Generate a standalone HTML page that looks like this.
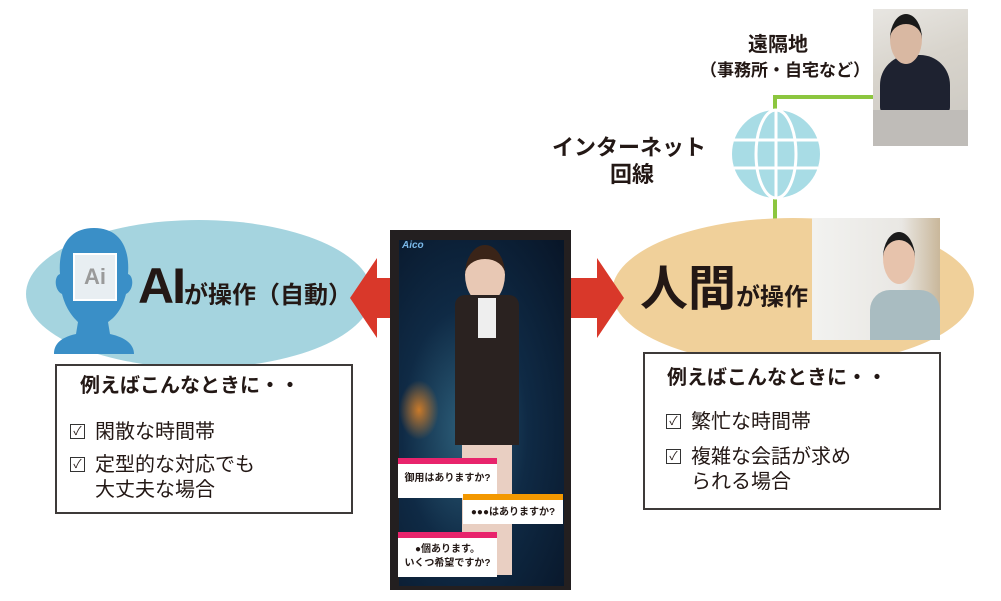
<!DOCTYPE html>
<html><head><meta charset="utf-8"><style>
body{margin:0;width:1001px;height:601px;background:#fff;position:relative;overflow:hidden;font-family:"Liberation Sans","Noto Sans CJK JP",sans-serif;color:#231815}
.a{position:absolute}
.box{position:absolute;background:#fff;border:2px solid #3e3a39;box-sizing:border-box}
.t{position:absolute;font-weight:bold;white-space:nowrap}
.cb{display:inline-block;width:13px;height:13px;border:1px solid #333;font-size:12px;line-height:12px;text-align:center;font-weight:normal;margin-right:10px;vertical-align:3px}
</style></head><body>
<!-- green lines -->
<div class="a" style="left:773px;top:95px;width:100px;height:4px;background:#8cc63f"></div>
<div class="a" style="left:773px;top:95px;width:4px;height:14px;background:#8cc63f"></div>
<div class="a" style="left:773px;top:198px;width:4px;height:22px;background:#8cc63f"></div>
<!-- globe -->
<svg class="a" style="left:730px;top:108px" width="92" height="92" viewBox="0 0 92 92">
<circle cx="46" cy="46" r="44" fill="#a8dce5"/>
<ellipse cx="46" cy="46" rx="20" ry="44" fill="none" stroke="#fff" stroke-width="3"/>
<line x1="46" y1="2" x2="46" y2="90" stroke="#fff" stroke-width="3"/>
<line x1="4" y1="32" x2="88" y2="32" stroke="#fff" stroke-width="3"/>
<line x1="4" y1="60" x2="88" y2="60" stroke="#fff" stroke-width="3"/>
</svg>
<!-- remote photo -->
<div class="a" style="left:873px;top:9px;width:95px;height:137px;background:linear-gradient(160deg,#e8e6e2 0%,#d8d4cc 40%,#c9c6c0 100%)"></div>
<div class="a" style="left:880px;top:55px;width:70px;height:60px;background:#1e2230;border-radius:30px 30px 8px 8px"></div>
<div class="a" style="left:890px;top:14px;width:32px;height:40px;background:#d9b8a2;border-radius:50%;border-top:10px solid #1a1a1a"></div>
<div class="a" style="left:873px;top:110px;width:95px;height:36px;background:#bfbcb8"></div>
<div class="t" style="left:748px;top:28px;font-size:20px">遠隔地</div>
<div class="t" style="left:700px;top:56px;font-size:17px">（事務所・自宅など）</div>
<div class="t" style="left:552px;top:130px;font-size:22px">インターネット</div>
<div class="t" style="left:610px;top:157px;font-size:22px">回線</div>
<!-- ellipses -->
<div class="a" style="left:26px;top:220px;width:346px;height:148px;border-radius:50%;background:#a5d4df"></div>
<div class="a" style="left:612px;top:218px;width:362px;height:148px;border-radius:50%;background:#f0d09a"></div>
<!-- human photo -->
<div class="a" style="left:812px;top:218px;width:128px;height:122px;background:linear-gradient(90deg,#f2f2f0,#e9e7e3 70%,#c9b79a)"></div>
<div class="a" style="left:870px;top:290px;width:70px;height:50px;background:#a9bcc1;border-radius:20px 20px 0 0"></div>
<div class="a" style="left:883px;top:232px;width:32px;height:44px;background:#e7c3ac;border-radius:50%;border-top:8px solid #1b1b1b"></div>
<div class="t" style="left:640px;top:262px;font-size:48px;line-height:56px">人間<span style="font-size:24px">が操作</span></div>
<!-- AI head -->
<svg class="a" style="left:48px;top:224px" width="92" height="130" viewBox="0 0 92 130">
<path d="M46 4 C20 4 10 24 12 50 C6 52 6 66 14 70 C18 86 26 94 30 98 L28 110 C10 114 6 122 6 130 L86 130 C86 122 80 114 62 110 L60 98 C66 94 74 86 78 70 C86 66 86 52 80 50 C82 24 72 4 46 4Z" fill="#3a8fc7"/>
<rect x="26" y="30" width="42" height="46" fill="#e8eef2" stroke="#fff" stroke-width="2"/>
<text x="47" y="60" font-family="Liberation Sans" font-size="22" font-weight="bold" fill="#9a9a9a" text-anchor="middle">Ai</text>
</svg>
<div class="t" style="left:138px;top:258px;font-size:50px;line-height:56px;letter-spacing:-2px">AI<span style="font-size:24px;letter-spacing:0">が操作（自動）</span></div>
<!-- arrows -->
<svg class="a" style="left:345px;top:255px" width="70" height="86"><polygon points="5,43 32,3 32,23 66,23 66,63 32,63 32,83" fill="#d9382a"/></svg>
<svg class="a" style="left:558px;top:255px" width="70" height="86"><polygon points="66,43 39,3 39,23 5,23 5,63 39,63 39,83" fill="#d9382a"/></svg>
<!-- phone -->
<div class="a" style="left:390px;top:230px;width:181px;height:360px;background:#231f20"></div>
<div class="a" style="left:399px;top:240px;width:165px;height:346px;background:radial-gradient(ellipse at 40% 55%,#2d5f7a 0%,#0f2a45 45%,#081527 100%)"></div>
<div class="a" style="left:399px;top:380px;width:40px;height:60px;background:radial-gradient(#c97a2a,transparent 70%)"></div>
<div class="a" style="left:465px;top:245px;width:40px;height:45px;background:#e8c8b4;border-radius:50%;border-top:14px solid #3a2418"></div>
<div class="a" style="left:455px;top:295px;width:64px;height:150px;background:#2a2220;border-radius:10px 10px 0 0"></div>
<div class="a" style="left:478px;top:298px;width:18px;height:40px;background:#eee"></div>
<div class="a" style="left:462px;top:445px;width:50px;height:130px;background:#e9cfc2"></div>
<div class="a" style="left:398px;top:458px;width:99px;height:40px;background:#fff;border-top:6px solid #e8246c;box-sizing:border-box;font-size:10px;font-weight:bold;text-align:center;line-height:30px">御用はありますか?</div>
<div class="a" style="left:463px;top:494px;width:100px;height:30px;background:#fff;border-top:6px solid #f39800;box-sizing:border-box;font-size:10px;font-weight:bold;text-align:center;line-height:26px">●●●はありますか?</div>
<div class="a" style="left:398px;top:532px;width:99px;height:45px;background:#fff;border-top:6px solid #e8246c;box-sizing:border-box;font-size:10px;font-weight:bold;text-align:center;line-height:14px;padding-top:5px">●個あります。<br>いくつ希望ですか?</div>
<div class="t" style="left:402px;top:240px;font-size:10px;color:#7ab8e8;font-style:italic">Aico</div>
<!-- boxes -->
<div class="box" style="left:55px;top:364px;width:298px;height:150px"></div>
<div class="t" style="left:80px;top:369px;font-size:20px">例えばこんなときに・・</div>
<div class="t" style="left:70px;top:415px;font-size:20px;font-weight:normal"><span class="cb">✓</span>閑散な時間帯</div>
<div class="t" style="left:70px;top:453px;font-size:20px;font-weight:normal;line-height:25px"><span class="cb">✓</span>定型的な対応でも<br><span style="margin-left:25px">大丈夫な場合</span></div>
<div class="box" style="left:643px;top:352px;width:298px;height:158px"></div>
<div class="t" style="left:667px;top:361px;font-size:20px">例えばこんなときに・・</div>
<div class="t" style="left:666px;top:405px;font-size:20px;font-weight:normal"><span class="cb">✓</span>繁忙な時間帯</div>
<div class="t" style="left:666px;top:445px;font-size:20px;font-weight:normal;line-height:25px"><span class="cb">✓</span>複雑な会話が求め<br><span style="margin-left:25px">られる場合</span></div>
</body></html>
